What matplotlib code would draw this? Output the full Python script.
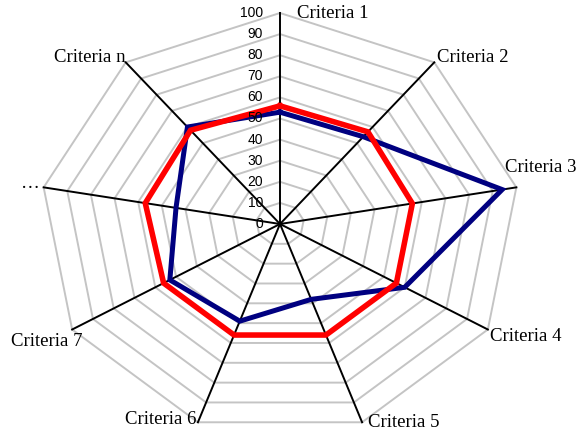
import numpy as np
import matplotlib
matplotlib.use('Agg')
import matplotlib.pyplot as plt

labels = ['Criteria 1', 'Criteria 2', 'Criteria 3', 'Criteria 4', 'Criteria 5',
          'Criteria 6', 'Criteria 7', '\u2026', 'Criteria n']
blue_vals = [53, 54, 94, 60, 38, 49, 53, 44, 60]
red_vals = [56, 57, 56, 56, 56, 56, 56, 57, 58]
ticks = [0, 10, 20, 30, 40, 50, 60, 70, 80, 90, 100]

# label offsets from spoke end, pixels (right, up) and alignment
label_off = [(17, 0, 'left'), (3, 5, 'left'), (-11, 20, 'left'), (2, -7, 'left'),
             (6, 0, 'left'), (-2, 3, 'right'), (10, -12, 'right'), (-4, 4, 'right'),
             (0, 5, 'right')]

n = len(labels)
ang = np.arange(n) * 2 * np.pi / n

def xy(vals):
    v = np.asarray(vals, dtype=float)
    x = v * np.sin(ang)
    y = v * np.cos(ang)
    return np.append(x, x[0]), np.append(y, y[0])

fig = plt.figure(figsize=(5.8, 4.34), dpi=100)
ax = fig.add_axes([40 / 580, -1 / 434, 480 / 580, 422 / 434])
ax.set_xlim(-100, 100)
ax.set_ylim(-100, 100)
ax.axis('off')

# grid polygons
for t in ticks[1:]:
    gx, gy = xy([t] * n)
    ax.plot(gx, gy, color='#c4c4c4', lw=1.4, clip_on=False, zorder=1)

# spokes
for a in ang:
    ax.plot([0, 100 * np.sin(a)], [0, 100 * np.cos(a)], color='black', lw=1.4,
            clip_on=False, zorder=2)

bx, by = xy(blue_vals)
ax.plot(bx, by, color='#000080', lw=3.6, solid_joinstyle='miter', clip_on=False, zorder=3)
rx, ry = xy(red_vals)
ax.plot(rx, ry, color='#ff0000', lw=4.0, solid_joinstyle='miter', clip_on=False, zorder=4)

# tick labels
for t in ticks:
    ax.annotate(str(t), (0, t), xytext=(-17, 0), textcoords='offset pixels',
                ha='right', va='center', fontsize=10, family='Liberation Sans',
                zorder=5)

# category labels
for lab, a, (dx, dy, ha) in zip(labels, ang, label_off):
    ax.annotate(lab, (100 * np.sin(a), 100 * np.cos(a)), xytext=(dx, dy),
                textcoords='offset pixels', ha=ha, va='center', fontsize=13.5,
                family='Liberation Serif', annotation_clip=False)

fig.savefig('out.png', dpi=100)
